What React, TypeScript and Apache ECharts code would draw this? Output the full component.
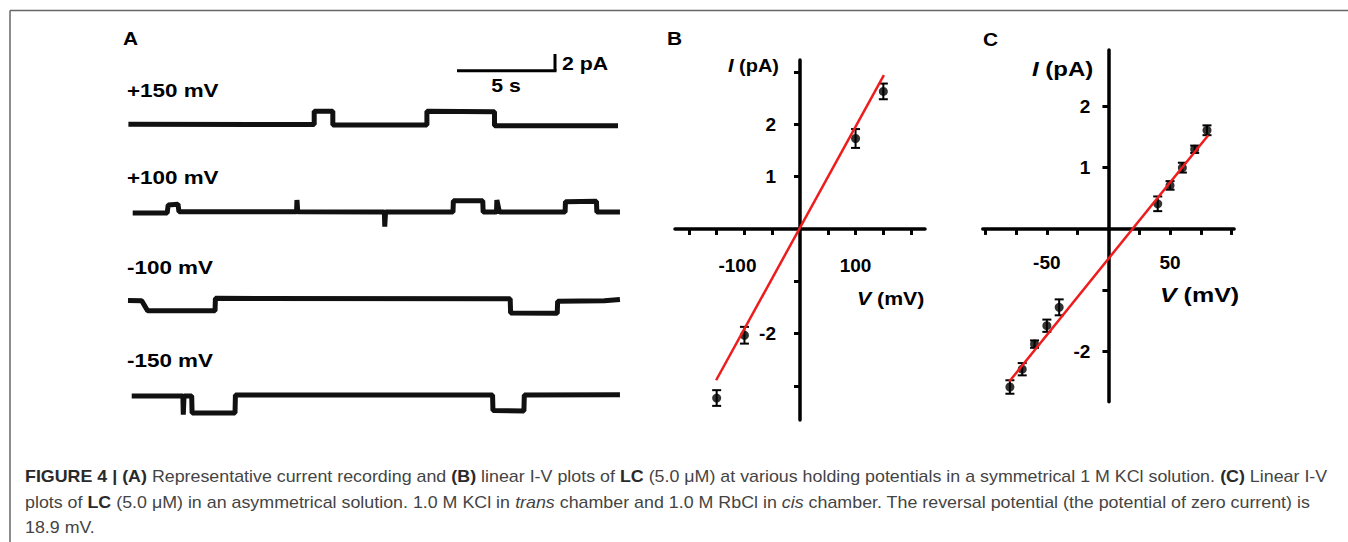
import React, { useEffect, useRef } from 'react';
import * as echarts from 'echarts';

const FONT = '"Liberation Sans", Arial, Helvetica, sans-serif';

// ---------- Panel A: single-channel traces, [time (s), current (pA)] ----------
const traceP150: number[][] = [
  [0.02, 0.1], [9.5, 0.05], [9.5, 1.65], [10.45, 1.65], [10.45, 0], [15.25, 0],
  [15.25, 1.65], [18.7, 1.6], [18.7, -0.1], [25.0, -0.1],
];
const traceP100: number[][] = [
  [0.24, -0.05], [2.0, -0.05], [2.05, 0.9], [2.55, 1.0], [2.6, 0.1], [8.6, 0.1],
  [8.62, 1.5], [8.66, 0.1], [13.08, 0.05], [13.1, -1.7], [13.14, 0.05], [16.58, 0.05],
  [16.6, 1.4], [18.1, 1.4], [18.12, 0.05], [18.8, 0.05], [18.82, 1.5], [18.95, 0.05],
  [22.3, 0.05], [22.32, 1.3], [23.9, 1.35], [23.92, 0.05], [25.1, 0.05],
];
const traceM100: number[][] = [
  [0.0, -0.05], [0.7, -0.1], [1.0, -1.3], [4.44, -1.3], [4.46, 0.2], [19.5, 0.15],
  [19.52, -1.55], [21.9, -1.6], [21.92, -0.15], [24.3, -0.1], [25.1, 0.05],
];
const traceM150: number[][] = [
  [0.19, -0.05], [2.8, -0.05], [2.82, -2.3], [2.86, -0.05], [3.25, -0.05], [3.27, -2.1],
  [5.46, -2.1], [5.48, 0.05], [18.6, 0.05], [18.62, -1.8], [20.2, -1.85], [20.22, 0.05],
  [25.1, 0.1],
];
const traces = [traceP150, traceP100, traceM100, traceM150];
const traceLabels = ['+150 mV', '+100 mV', '-100 mV', '-150 mV'];
const scaleBarTime = 5; // s
const scaleBarCurrent = 2; // pA

// ---------- Panel B: symmetrical 1 M KCl ----------
const bVoltage = [-150, -100, 100, 150];
const bCurrent = [-3.23, -2.03, 1.73, 2.63];
const bError = [0.15, 0.16, 0.18, 0.15];
const bFit = [[-151, -2.89], [151, 2.94]];
const bXTicks = [-200, -150, -100, -50, 50, 100, 150, 200];
const bXLabels = [-100, 100];
const bYTicks = [-3, -2, -1, 1, 2, 3];
const bYLabels = [-2, 1, 2];

// ---------- Panel C: asymmetrical KCl / RbCl ----------
const cVoltage = [-80, -70, -60, -50, -40, 40, 50, 60, 70, 80];
const cCurrent = [-2.58, -2.29, -1.88, -1.58, -1.28, 0.41, 0.71, 1.0, 1.3, 1.61];
const cError = [0.11, 0.1, 0.06, 0.1, 0.13, 0.12, 0.07, 0.08, 0.06, 0.08];
const cFit = [[-80.5, -2.49], [81, 1.53]];
const cXTicks = [-100, -75, -50, -25, 25, 50, 75, 100];
const cXLabels = [-50, 50];
const cYTicks = [-2, -1, 1, 2];
const cYLabels = [-2, 1, 2];

// ---------- Caption ----------
const captionLines = [
  '{b|FIGURE 4 | (A)} Representative current recording and {b|(B)} linear I-V plots of {b|LC} (5.0 μM) at various holding potentials in a symmetrical 1 M KCl solution. {b|(C)} Linear I-V',
  'plots of {b|LC} (5.0 μM) in an asymmetrical solution. 1.0 M KCl in {i|trans} chamber and 1.0 M RbCl in {i|cis} chamber. The reversal potential (the potential of zero current) is',
  '18.9 mV.',
];

// ---------- layout ----------
const A_LEFT = 128;
const PX_PER_S = 19.6;
const PX_PER_PA = 8.35;
const A_TMAX = 25.5;
const A_IHALF = 2.5;
const traceBaselineY = [125, 212.5, 300, 395.5];
const traceLabelY = [90, 177, 267, 360];

const gridB = { left: 675, top: 60, width: 250, height: 360 };
const gridC = { left: 982.8, top: 50, width: 251.3, height: 351.7 };

function text(x: number, y: number, t: string, o: any = {}) {
  const size = o.size ?? 19;
  const weight = o.weight ?? 'bold';
  const fill = o.fill ?? '#000';
  return {
    type: 'text',
    x,
    y,
    scaleX: o.scaleX ?? 1,
    silent: true,
    style: {
      text: t,
      fontSize: size,
      fontWeight: weight,
      fontFamily: FONT,
      fill,
      align: o.align ?? 'left',
      verticalAlign: 'middle',
      textAlign: o.align ?? 'left',
      textVerticalAlign: 'middle',
      rich: o.rich,
    },
  };
}

const errRender = (params: any, api: any) => {
  const x = api.value(0);
  const y = api.value(1);
  const e = api.value(2);
  const hi = api.coord([x, y + e]);
  const lo = api.coord([x, y - e]);
  const w = 4.5;
  const style = { stroke: '#000', lineWidth: 2 };
  return {
    type: 'group',
    children: [
      { type: 'line', shape: { x1: hi[0], y1: hi[1], x2: lo[0], y2: lo[1] }, style },
      { type: 'line', shape: { x1: hi[0] - w, y1: hi[1], x2: hi[0] + w, y2: hi[1] }, style },
      { type: 'line', shape: { x1: lo[0] - w, y1: lo[1], x2: lo[0] + w, y2: lo[1] }, style },
    ],
  };
};

// axes crossing at the origin: shift each axis from the grid edge to the zero of the other axis
function ivAxes(grid: number, g: any, xr: [number, number], yr: [number, number], xt: number[], xl: number[], yt: number[], yl: number[], xMargin: number, yMargin: number, negShift: number) {
  const labelStyle = { fontSize: 19, fontWeight: 'bold', fontFamily: FONT, color: '#000' };
  const zeroFromBottom = g.height * (0 - yr[0]) / (yr[1] - yr[0]);
  const zeroFromLeft = g.width * (0 - xr[0]) / (xr[1] - xr[0]);
  const xAxis = {
    type: 'value', gridIndex: grid, min: xr[0], max: xr[1], position: 'bottom', offset: -zeroFromBottom,
    axisLine: { onZero: false, lineStyle: { color: '#000', width: 3.5 } },
    axisTick: { show: true, customValues: xt, length: 6, lineStyle: { color: '#000', width: 3 } },
    axisLabel: {
      show: true, customValues: xl, margin: xMargin, ...labelStyle,
      formatter: (v: number) => (v < 0 && negShift ? `{n|${v}}` : `${v}`),
      rich: { n: { ...labelStyle, padding: [0, negShift, 0, 0] } },
    },
    splitLine: { show: false },
  };
  const yAxis = {
    type: 'value', gridIndex: grid, min: yr[0], max: yr[1], position: 'left', offset: -zeroFromLeft,
    axisLine: { onZero: false, lineStyle: { color: '#000', width: 3.5 } },
    axisTick: { show: true, customValues: yt, length: 6, lineStyle: { color: '#000', width: 3 } },
    axisLabel: { show: true, customValues: yl, margin: yMargin, ...labelStyle },
    splitLine: { show: false },
  };
  return { xAxis, yAxis };
}

function ivSeries(axisIdx: number, V: number[], I: number[], E: number[], fit: number[][]) {
  return [
    {
      type: 'custom', xAxisIndex: axisIdx, yAxisIndex: axisIdx, renderItem: errRender,
      encode: { x: 0, y: 1 }, data: V.map((v, i) => [v, I[i], E[i]]), z: 3,
    },
    {
      type: 'scatter', xAxisIndex: axisIdx, yAxisIndex: axisIdx, symbol: 'circle', symbolSize: 9,
      itemStyle: { color: '#000' }, data: V.map((v, i) => [v, I[i]]), z: 4,
    },
    {
      type: 'line', xAxisIndex: axisIdx, yAxisIndex: axisIdx, data: fit, showSymbol: false,
      lineStyle: { color: '#ee1c1c', width: 2.5 }, z: 5,
    },
  ];
}

export default function App() {
  const ref = useRef<HTMLDivElement>(null);
  useEffect(() => {
    if (!ref.current) return;
    const chart = echarts.init(ref.current, null, { renderer: 'svg' });

    const grids: any[] = traceBaselineY.map((b) => ({
      left: A_LEFT, top: b - A_IHALF * PX_PER_PA, width: A_TMAX * PX_PER_S, height: 2 * A_IHALF * PX_PER_PA,
    }));
    grids.push(gridB, gridC);

    const xAxes: any[] = traces.map((_, i) => ({ type: 'value', gridIndex: i, min: 0, max: A_TMAX, show: false }));
    const yAxes: any[] = traces.map((_, i) => ({ type: 'value', gridIndex: i, min: -A_IHALF, max: A_IHALF, show: false }));

    const b = ivAxes(4, gridB, [-225, 225], [-3.65, 3.23], bXTicks, bXLabels, bYTicks, bYLabels, 27, 24, 14);
    const c = ivAxes(5, gridC, [-102, 102], [-2.82, 2.92], cXTicks, cXLabels, cYTicks, cYLabels, 24, 18, 0);
    xAxes.push(b.xAxis, c.xAxis);
    yAxes.push(b.yAxis, c.yAxis);

    const series: any[] = traces.map((d, i) => ({
      type: 'line', xAxisIndex: i, yAxisIndex: i, data: d, showSymbol: false,
      lineStyle: { color: '#111', width: 5 }, z: 2,
    }));
    series.push(...ivSeries(4, bVoltage, bCurrent, bError, bFit));
    series.push(...ivSeries(5, cVoltage, cCurrent, cError, cFit));

    // scale bar (panel A)
    const sbRight = 555;
    const sbY = 70.7;
    const sbW = scaleBarTime * PX_PER_S;
    const sbH = scaleBarCurrent * PX_PER_PA;
    const barStyle = { stroke: '#000', lineWidth: 3 };

    const italicRich = (size: number) => ({
      i: { fontStyle: 'italic', fontWeight: 'bold', fontSize: size, fontFamily: FONT, fill: '#000' },
    });
    const capSize = 16;
    const capRich = {
      b: { fontWeight: 'bold', fontSize: capSize, fontFamily: FONT, fill: '#2a2a2a' },
      i: { fontStyle: 'italic', fontSize: capSize, fontFamily: FONT, fill: '#444' },
    };

    const graphic: any[] = [
      { type: 'line', silent: true, shape: { x1: 10, y1: 10.5, x2: 1348, y2: 10.5 }, style: { stroke: '#666', lineWidth: 1.5 } },
      { type: 'line', silent: true, shape: { x1: 10, y1: 10.5, x2: 10, y2: 542 }, style: { stroke: '#666', lineWidth: 1.5 } },
      text(123, 38, 'A', { size: 19, scaleX: 1.1 }),
      text(667, 38, 'B', { size: 19, scaleX: 1.1 }),
      text(983, 39, 'C', { size: 19, scaleX: 1.1 }),
      ...traceLabels.map((l, i) => text(127, traceLabelY[i], l, { size: 19, scaleX: 1.18 })),
      { type: 'line', silent: true, shape: { x1: sbRight - sbW, y1: sbY, x2: sbRight + 1.5, y2: sbY }, style: barStyle },
      { type: 'line', silent: true, shape: { x1: sbRight, y1: sbY, x2: sbRight, y2: sbY - sbH }, style: barStyle },
      text(562, 63, `${scaleBarCurrent} pA`, { size: 19, scaleX: 1.12 }),
      text(506, 85, `${scaleBarTime} s`, { size: 19, scaleX: 1.12, align: 'center' }),
      text(728, 65, '{i|I} (pA)', { size: 19, scaleX: 1.05, rich: italicRich(19) }),
      text(857, 298, '{i|V} (mV)', { size: 19, scaleX: 1.12, rich: italicRich(19) }),
      text(1032, 69, '{i|I} (pA)', { size: 20, scaleX: 1.2, rich: italicRich(20) }),
      text(1160, 295, '{i|V} (mV)', { size: 20, scaleX: 1.25, rich: italicRich(20) }),
      ...captionLines.map((l, i) => text(25, 477 + i * 25.5, l, { size: capSize, weight: 'normal', fill: '#444', scaleX: 1.115, rich: capRich })),
    ];

    chart.setOption({
      animation: false,
      backgroundColor: '#fff',
      grid: grids,
      xAxis: xAxes,
      yAxis: yAxes,
      series,
      graphic,
    });
    return () => chart.dispose();
  }, []);
  return <div ref={ref} style={{ position: 'absolute', left: 0, top: 0, width: 1348, height: 542, background: '#fff' }} />;
}
